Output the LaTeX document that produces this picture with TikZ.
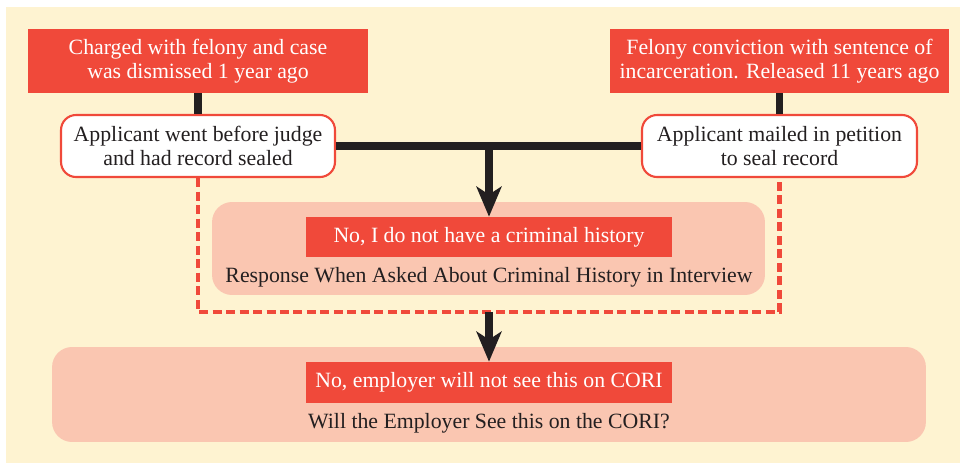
\documentclass[tikz,border=0pt]{standalone}
\usepackage{fontspec}
\setmainfont{Liberation Serif}
\usetikzlibrary{arrows.meta}

\definecolor{cream}{RGB}{254,243,209}
\definecolor{redbox}{RGB}{240,73,58}
\definecolor{pinkbox}{RGB}{250,198,177}
\definecolor{darktext}{RGB}{35,31,32}

\tikzset{
  redlabel/.style={fill=redbox,text=white,align=center,inner sep=0pt},
  whitelabel/.style={draw=redbox,line width=1.2pt,fill=white,text=darktext,
    align=center,rounded corners=0.3cm,inner sep=0pt},
  pinkpanel/.style={fill=pinkbox,rounded corners=0.4cm,inner sep=0pt},
  panelcaption/.style={text=darktext,inner sep=0pt},
  flowline/.style={line width=4pt,draw=darktext},
  flowarrow/.style={flowline,-{Stealth[length=0.6cm,width=0.5cm,inset=0.16cm]}},
  dashline/.style={draw=redbox,line width=2.3pt,dash pattern=on 0.18cm off 0.09cm}
}

\begin{document}
\begin{tikzpicture}[x=0.02cm,y=-0.02cm,font=\fontsize{12.4}{13.4}\selectfont]
   \useasboundingbox (0,0) rectangle (960,463);
   \fill[white] (0,0) rectangle (960,463);
   \fill[cream] (6,7) rectangle (960,463);

   % upper row
   \path (198,61) node[redlabel,minimum width=6.8cm,minimum height=1.28cm] (charged)
     {Charged with felony and case\\ was dismissed 1 year ago};
   \path (779.5,61) node[redlabel,minimum width=6.78cm,minimum height=1.28cm] (felony)
     {Felony conviction with sentence of\\ incarceration. Released 11 years ago};
   \path (198,146) node[whitelabel,minimum width=5.48cm,minimum height=1.24cm] (judge)
     {Applicant went before judge\\ and had record sealed};
   \path (779.5,146) node[whitelabel,minimum width=5.5cm,minimum height=1.24cm] (mailed)
     {Applicant mailed in petition\\ to seal record};

   % panels
   \path (488.5,248.5) node[pinkpanel,minimum width=11.06cm,minimum height=1.86cm] (resp) {};
   \path (489,237) node[redlabel,minimum width=7.32cm,minimum height=0.8cm] (noanswer)
     {No, I do not have a criminal history};
   \path (489,277) node[panelcaption] (resplabel)
     {Response When Asked About Criminal History in Interview};
   \path (489,394.5) node[pinkpanel,minimum width=17.48cm,minimum height=1.9cm] (cori) {};
   \path (489,382.5) node[redlabel,minimum width=7.32cm,minimum height=0.82cm] (corired)
     {No, employer will not see this on CORI};
   \path (489,423) node[panelcaption] (corilabel)
     {Will the Employer See this on the CORI?};

   \coordinate (join) at (489,146);
   \coordinate (dashbot) at (489,312);

   % connectors
   \draw[flowline] (charged) -- (judge);
   \draw[flowline] (felony) -- (mailed);
   \draw[flowline] (judge.east) -- (mailed.west);
   \draw[flowarrow] (join) -- (noanswer.north);
   \draw[dashline] (judge.south) |- (dashbot) -| (mailed.south);
   \draw[flowarrow] (dashbot) -- (corired.north);
\end{tikzpicture}
\end{document}
